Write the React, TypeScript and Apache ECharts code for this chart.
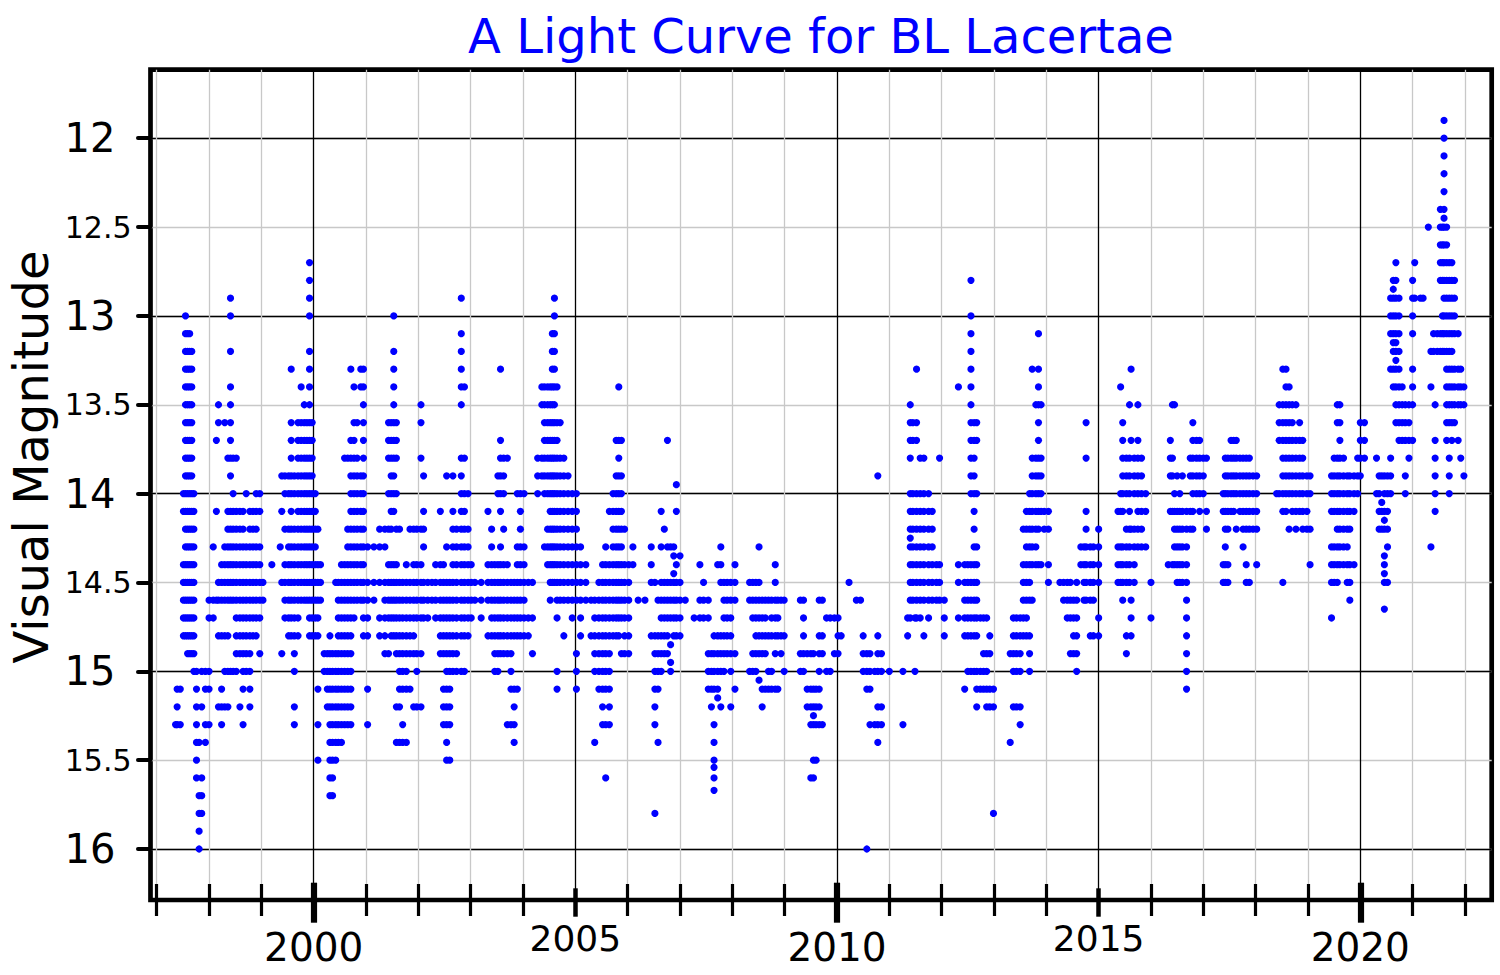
import React, { useEffect, useRef } from "react";
import * as echarts from "echarts";

// Each column: [decimal year, magnitudes in tenths of a magnitude]
type Col = [number, number[]];

const S1997: Col[] = [
  [1997.36, [153]],
  [1997.39, [151, 152, 153]],
  [1997.45, [151, 153]],
  [1997.51, [140, 141, 144, 145, 146, 147, 148]],
  [1997.55, [130, 131, 132, 133, 134, 135, 136, 137, 138, 139, 140, 141, 142, 143, 144, 145, 146, 147, 148]],
  [1997.59, [131, 132, 133, 134, 135, 136, 137, 138, 139, 140, 141, 142, 143, 144, 145, 146, 147, 148, 149]],
  [1997.63, [131, 132, 133, 134, 135, 136, 137, 138, 139, 140, 141, 142, 143, 144, 145, 146, 147, 148, 149]],
  [1997.67, [132, 133, 134, 135, 136, 137, 138, 139, 140, 141, 142, 143, 144, 145, 146, 147, 148, 149]],
  [1997.71, [140, 141, 142, 143, 144, 145, 146, 147, 148, 149, 150]],
  [1997.76, [150, 151, 152, 153, 154, 155, 156]],
  [1997.81, [154, 157, 158, 159, 160]],
  [1997.86, [150, 152, 156, 157, 158]],
  [1997.93, [150, 151, 153, 154]],
  [1998.0, [146, 147, 150, 151, 153]],
];

const S1998: Col[] = [
  [1998.08, [143, 146, 147]],
  [1998.14, [137, 141, 146]],
  [1998.18, [135, 136, 145, 146, 148, 152]],
  [1998.24, [144, 145, 146, 148, 151, 152, 153]],
  [1998.3, [136, 143, 144, 145, 146, 148, 150, 152]],
  [1998.36, [138, 141, 142, 143, 144, 145, 146, 148, 150, 152]],
  [1998.41, [129, 130, 132, 134, 135, 136, 137, 138, 139, 141, 142, 143, 144, 145, 146, 150]],
  [1998.46, [138, 140, 141, 142, 143, 144, 145, 146, 150]],
  [1998.52, [138, 141, 142, 143, 144, 145, 146, 147, 148, 149, 150]],
  [1998.59, [141, 142, 143, 144, 145, 146, 147, 148, 149, 152]],
  [1998.65, [141, 142, 143, 144, 145, 146, 147, 148, 149, 150, 151, 153]],
  [1998.71, [140, 143, 144, 145, 146, 147, 148, 149, 150]],
  [1998.78, [141, 142, 143, 144, 145, 146, 147, 148, 149, 150, 151, 152]],
  [1998.84, [141, 142, 143, 144, 145, 146, 147, 148]],
  [1998.9, [140, 141, 142, 143, 144, 145, 146, 147, 148]],
  [1998.97, [140, 141, 143, 144, 145, 146, 147, 149]],
  [1999.03, [145, 146]],
];

const S1999: Col[] = [
  [1999.2, [144]],
  [1999.36, [143]],
  [1999.39, [139, 141, 145, 149]],
  [1999.45, [139, 140, 142, 144, 145, 146, 147]],
  [1999.52, [139, 140, 142, 143, 144, 145, 146, 147, 148]],
  [1999.57, [133, 136, 137, 138, 139, 140, 141, 142, 143, 144, 145, 146, 147, 148]],
  [1999.63, [139, 140, 142, 143, 144, 145, 146, 147, 148, 149, 150, 152, 153]],
  [1999.7, [136, 137, 138, 139, 140, 141, 142, 143, 144, 145, 146, 147, 148]],
  [1999.76, [134, 136, 137, 138, 139, 140, 141, 142, 143, 144, 145, 146]],
  [1999.82, [135, 136, 137, 138, 139, 140, 141, 142, 143, 144, 145, 146]],
  [1999.87, [136, 137, 138, 139, 140, 141, 142, 143, 144, 145, 146]],
  [1999.92, [127, 128, 129, 130, 132, 133, 134, 135, 136, 137, 138, 139, 140, 141, 142, 143, 144, 145, 146, 147, 148]],
  [1999.97, [136, 137, 138, 139, 140, 141, 142, 143, 144, 145, 146, 147, 148]],
  [2000.03, [140, 141, 142, 143, 144, 145, 146, 147, 148]],
  [2000.08, [142, 144, 145, 146, 147, 148, 151, 153, 155]],
  [2000.13, [144, 145, 146]],
];

const S2000: Col[] = [
  [2000.2, [149, 150]],
  [2000.26, [149, 150, 151, 152]],
  [2000.31, [148, 149, 150, 151, 152, 153, 154, 155, 156, 157]],
  [2000.36, [149, 150, 151, 152, 153, 154, 155, 156, 157]],
  [2000.42, [145, 149, 150, 151, 152, 153, 154, 155]],
  [2000.47, [145, 146, 147, 148, 149, 150, 151, 152, 153, 154]],
  [2000.53, [144, 145, 146, 147, 148, 149, 150, 151, 152, 153, 154]],
  [2000.59, [138, 144, 145, 146, 147, 148, 149, 150, 151, 152, 153]],
  [2000.65, [138, 142, 143, 144, 145, 146, 147, 148, 149, 150, 151, 152, 153]],
  [2000.71, [133, 137, 138, 139, 140, 141, 142, 143, 144, 145, 146, 147, 148, 149, 150, 151, 152, 153]],
  [2000.77, [134, 136, 137, 138, 139, 140, 141, 142, 143, 144, 145, 146, 147]],
  [2000.83, [136, 138, 139, 140, 141, 142, 143, 144, 145, 146]],
  [2000.9, [133, 134, 139, 140, 141, 142, 143, 144, 145, 146]],
  [2000.95, [133, 134, 135, 136, 137, 138, 139, 140, 141, 142, 143, 144, 145, 146, 147, 148]],
];

const S2001: Col[] = [
  [2001.03, [143, 145, 146, 147, 148, 151, 153]],
  [2001.15, [143, 145, 146]],
  [2001.26, [142, 143, 145, 147, 148]],
  [2001.36, [142, 143, 145, 146, 147, 148, 149]],
  [2001.43, [136, 137, 138, 140, 142, 144, 145, 146, 147, 149]],
  [2001.48, [136, 137, 138, 139, 140, 141, 142, 144, 145, 146, 147, 148]],
  [2001.53, [130, 132, 133, 134, 135, 136, 137, 138, 139, 140, 141, 144, 145, 146, 147, 148]],
  [2001.58, [136, 137, 138, 140, 142, 144, 145, 146, 147, 148, 149, 152, 154]],
  [2001.64, [142, 145, 146, 147, 148, 149, 150, 151, 152, 154]],
  [2001.7, [145, 146, 147, 148, 149, 150, 151, 153, 154]],
  [2001.77, [144, 145, 146, 147, 148, 149, 150, 151, 154]],
  [2001.84, [142, 145, 146, 147, 148, 149, 151]],
  [2001.91, [142, 144, 145, 146, 147, 148, 149, 152]],
  [2001.97, [142, 144, 145, 146, 147, 149, 150, 152]],
  [2002.05, [135, 136, 138, 142, 144, 145, 146, 147, 149, 152]],
  [2002.1, [139, 141, 142, 143, 145, 146, 147]],
];

const S2002: Col[] = [
  [2002.18, [145, 146, 147]],
  [2002.26, [145, 146]],
  [2002.33, [144, 145, 146, 147]],
  [2002.42, [141, 144, 145, 146, 147, 148, 149]],
  [2002.48, [144, 145, 146, 147, 148, 149, 151, 152, 153]],
  [2002.54, [139, 143, 145, 146, 147, 148, 149, 150, 151, 152, 153, 154, 155]],
  [2002.6, [145, 146, 147, 148, 149, 150, 151, 152, 153, 155]],
  [2002.66, [139, 141, 142, 143, 144, 145, 146, 147, 148, 149, 150]],
  [2002.73, [142, 143, 144, 145, 146, 147, 148, 149, 150]],
  [2002.82, [129, 131, 132, 133, 134, 135, 138, 139, 140, 141, 142, 143, 144, 145, 146, 147, 148, 150]],
  [2002.88, [134, 138, 140, 141, 142, 143, 144, 145, 146, 147, 148, 150]],
  [2002.95, [140, 142, 143, 144, 145, 146, 147, 148]],
  [2003.01, [144, 145, 146, 147]],
  [2003.08, [145, 146]],
];

const S2003: Col[] = [
  [2003.2, [145, 146, 147]],
  [2003.33, [141, 144, 145, 146, 148]],
  [2003.4, [142, 143, 144, 145, 146, 147, 148]],
  [2003.46, [144, 145, 146, 147, 148, 149, 150]],
  [2003.52, [139, 140, 144, 145, 146, 147, 148, 149, 150]],
  [2003.57, [133, 137, 138, 139, 140, 141, 143, 144, 145, 146, 147, 148, 149]],
  [2003.63, [138, 139, 140, 142, 144, 145, 146, 147, 148, 149]],
  [2003.7, [138, 144, 145, 146, 147, 148, 149, 153]],
  [2003.77, [145, 146, 147, 148, 149, 150, 151, 153]],
  [2003.83, [145, 146, 147, 148, 151, 152, 153, 154]],
  [2003.89, [140, 143, 144, 145, 146, 147, 148, 151]],
  [2003.95, [140, 141, 142, 143, 144, 145, 146, 147, 148]],
  [2004.02, [140, 143, 144, 145, 146, 147, 148]],
  [2004.1, [145, 147, 148]],
  [2004.18, [145, 147, 149]],
];

const S2004: Col[] = [
  [2004.28, [138, 139, 140]],
  [2004.36, [134, 135, 138, 139]],
  [2004.41, [134, 135, 136, 137, 138, 139, 140, 143]],
  [2004.47, [134, 135, 136, 137, 138, 139, 140, 142, 143, 144]],
  [2004.52, [134, 135, 136, 137, 138, 139, 140, 141, 142, 143, 144, 145, 146]],
  [2004.56, [131, 132, 133, 134, 135, 136, 137, 138, 139, 140, 141, 142, 143, 144, 145]],
  [2004.6, [129, 130, 131, 132, 133, 134, 135, 136, 137, 138, 139, 140, 141, 142, 143, 144, 145]],
  [2004.65, [134, 136, 137, 138, 139, 140, 141, 142, 143, 144, 145, 146, 147, 150, 151]],
  [2004.71, [136, 138, 139, 140, 141, 142, 143, 144, 145, 146]],
  [2004.78, [138, 139, 140, 141, 142, 143, 144, 145, 146, 148]],
  [2004.86, [139, 140, 141, 142, 143, 144, 145, 146]],
  [2004.94, [140, 141, 142, 143, 144, 145, 146, 147]],
  [2005.02, [140, 141, 142, 143, 144, 145, 146, 149, 150, 151]],
  [2005.1, [143, 144, 145, 146, 147, 148]],
  [2005.2, [144, 145, 146]],
];

const S2005: Col[] = [
  [2005.3, [146, 148]],
  [2005.37, [146, 147, 148, 149, 150, 154]],
  [2005.45, [145, 146, 147, 148, 149, 150, 151]],
  [2005.52, [144, 145, 146, 147, 148, 149, 150, 151, 152, 153]],
  [2005.58, [143, 144, 145, 146, 147, 148, 149, 150, 151, 153, 156]],
  [2005.65, [141, 144, 145, 146, 147, 148, 149, 150, 151, 152, 153]],
  [2005.72, [140, 141, 142, 143, 144, 145, 146, 147, 148]],
  [2005.78, [137, 139, 140, 141, 142, 143, 144, 145, 146, 147, 148]],
  [2005.83, [134, 137, 138, 139, 140, 141, 142, 143, 144, 145, 146, 147, 148]],
  [2005.88, [137, 139, 140, 141, 142, 143, 144, 145, 146, 147, 149]],
  [2005.94, [142, 144, 145, 146, 147, 148, 149]],
  [2006.02, [144, 145, 146, 147, 148, 149]],
  [2006.1, [143, 144]],
  [2006.2, [146]],
];

const S2006: Col[] = [
  [2006.33, [146]],
  [2006.45, [143, 144, 145, 148]],
  [2006.52, [145, 148, 149, 150, 151, 152, 153, 158]],
  [2006.58, [146, 148, 149, 150, 151, 154]],
  [2006.64, [141, 143, 145, 146, 147, 148, 149, 150]],
  [2006.7, [142, 145, 146, 147, 148, 149]],
  [2006.76, [137, 143, 145, 146, 147, 148, 149]],
  [2006.82, [143, 145, 146, 147, 148.5, 149.5, 150]],
  [2006.88, [143, 143.5, 144.5, 145, 146, 147, 148]],
  [2006.93, [139.5, 141, 144, 145, 146, 147, 148]],
  [2007.0, [143.5, 145, 146, 147, 148]],
  [2007.1, [146]],
  [2007.27, [147]],
];

const S2007: Col[] = [
  [2007.38, [144, 146, 147]],
  [2007.45, [145, 146, 147]],
  [2007.54, [146, 147, 149, 150, 151]],
  [2007.6, [149, 150, 151, 152]],
  [2007.65, [148, 149, 150, 151, 153, 154, 155, 155.4, 156, 156.7]],
  [2007.72, [144, 148, 149, 150, 151, 151.5]],
  [2007.78, [143, 144, 145, 148, 149, 150, 152]],
  [2007.84, [145, 146, 147, 148, 149, 150]],
  [2007.9, [145, 146, 147, 148, 149]],
  [2007.97, [145, 146, 147, 148, 149, 150, 152]],
  [2008.05, [144, 145, 146, 149, 151]],
];

const S2008: Col[] = [
  [2008.33, [145, 146, 150]],
  [2008.39, [145, 146, 147, 149, 150]],
  [2008.45, [145, 146, 147, 148, 149, 150]],
  [2008.51, [143, 145, 146, 147, 148, 149, 150.5]],
  [2008.57, [146, 147, 148, 149, 151, 152]],
  [2008.63, [146, 147, 148, 149, 151]],
  [2008.69, [146, 148, 150, 151]],
  [2008.75, [146, 147, 148, 150, 151]],
  [2008.82, [144, 145, 146, 147, 148, 149, 151]],
  [2008.87, [146, 147, 148, 151]],
  [2008.93, [146, 148, 149]],
  [2008.99, [146, 148, 150]],
];

const S2009: Col[] = [
  [2009.3, [146, 149, 150]],
  [2009.36, [146, 147, 148, 149, 150]],
  [2009.43, [149, 151, 152]],
  [2009.5, [149, 151, 152, 153, 156]],
  [2009.55, [149, 151, 152, 152.5, 153, 155, 156]],
  [2009.6, [151, 152, 153, 155]],
  [2009.66, [146, 148, 149, 150, 151, 152, 153]],
  [2009.72, [146, 148, 149, 153]],
  [2009.8, [147, 150]],
  [2009.87, [147, 150]],
  [2009.95, [147, 149]],
  [2010.02, [147, 148, 149]],
  [2010.08, [148]],
];

const S2010: Col[] = [
  [2010.23, [145]],
  [2010.37, [146]],
  [2010.45, [146]],
  [2010.5, [148, 149, 150]],
  [2010.57, [149, 150, 151, 160]],
  [2010.63, [149, 150, 151, 153]],
  [2010.72, [150, 153]],
  [2010.78, [139, 148, 149, 150, 152, 153, 154]],
  [2010.85, [149, 150, 152, 153]],
  [2011.0, [150]],
];

const S2011: Col[] = [
  [2011.26, [150, 153]],
  [2011.35, [147, 148]],
  [2011.4, [135, 136, 137, 138, 140, 141, 142, 142.5, 143, 144, 145, 146, 147]],
  [2011.45, [136, 137, 140, 141, 142, 143, 144, 145, 146]],
  [2011.49, [147, 150]],
  [2011.52, [133, 136, 137, 140, 141, 142, 143, 144, 145, 146, 147]],
  [2011.59, [138, 140, 141, 142, 143, 144, 145, 146, 147]],
  [2011.66, [138, 140, 141, 142, 143, 144, 145, 146, 148]],
  [2011.75, [140, 141, 142, 143, 144, 145, 146, 147]],
  [2011.82, [141, 142, 143, 144, 145, 146]],
  [2011.9, [144, 145, 146]],
  [2011.96, [138, 144, 145, 146]],
  [2012.05, [146, 147, 148]],
];

const S2012: Col[] = [
  [2012.32, [134, 144, 145, 147]],
  [2012.44, [144, 145, 146, 147, 148, 151]],
  [2012.5, [144, 145, 146, 147, 148, 150]],
  [2012.56, [128, 130, 131, 132, 133, 134, 135, 136, 137, 138, 139, 140, 144, 145, 146, 147, 148, 150]],
  [2012.62, [136, 137, 138, 139, 140, 141, 142, 143, 144, 145, 146, 147, 148, 150]],
  [2012.67, [136, 137, 140, 143, 144, 145, 146, 147, 148, 150, 151, 152]],
  [2012.74, [147, 150, 151]],
  [2012.8, [147, 149, 150, 151]],
  [2012.86, [147, 149, 150, 151, 152]],
  [2012.92, [148, 149, 151, 152]],
  [2012.99, [151, 152, 158]],
];

const S2013: Col[] = [
  [2013.31, [149, 154]],
  [2013.37, [147, 148, 149, 150, 152]],
  [2013.43, [147, 148, 149, 150, 152]],
  [2013.5, [147, 148, 149, 150, 152, 153]],
  [2013.56, [142, 144, 145, 146, 147, 148]],
  [2013.62, [141, 142, 143, 144, 145, 146, 147, 148]],
  [2013.68, [140, 141, 142, 143, 144, 145, 146, 148, 149, 150]],
  [2013.73, [133, 138, 139, 140, 141, 142, 143, 144, 146]],
  [2013.8, [135, 138, 139, 140, 141, 142, 143, 144]],
  [2013.85, [131, 133, 134, 135, 136, 137, 138, 139, 140, 141, 142, 144]],
  [2013.9, [135, 138, 139, 140, 141, 144]],
  [2013.96, [141, 142]],
  [2014.04, [141, 142, 144, 145]],
];

const S2014: Col[] = [
  [2014.26, [145]],
  [2014.33, [145, 146]],
  [2014.4, [145, 146, 147]],
  [2014.46, [145, 146, 147, 149]],
  [2014.52, [146, 147, 148, 149]],
  [2014.58, [145, 146, 147, 148, 149, 150]],
  [2014.66, [143, 144]],
  [2014.72, [143, 144, 145, 146]],
  [2014.76, [136, 138, 141, 142, 143, 144, 145, 146]],
  [2014.84, [143, 144, 145, 146, 148]],
  [2014.9, [143, 144, 145, 146, 148]],
  [2015.0, [142, 143, 144, 145, 147, 148]],
];

const S2015: Col[] = [
  [2015.37, [141, 143, 144, 145]],
  [2015.42, [134, 140, 141, 143, 144, 145]],
  [2015.46, [136, 137, 138, 139, 140, 141, 143, 144, 145, 146]],
  [2015.53, [138, 139, 140, 142, 143, 144, 145, 148, 149]],
  [2015.59, [135, 138, 139, 140, 141, 142, 143, 144, 145]],
  [2015.62, [133, 137, 142, 146, 147, 148]],
  [2015.68, [138, 139, 140, 142, 143, 144, 145]],
  [2015.75, [135, 137, 138, 139, 140, 141, 142, 143]],
  [2015.82, [138, 139, 140, 141, 142, 143]],
  [2015.9, [140, 141, 143]],
  [2016.0, [145, 147]],
];

const S2016: Col[] = [
  [2016.33, [144]],
  [2016.37, [137, 138, 139, 141]],
  [2016.41, [135, 138, 139, 141, 144]],
  [2016.45, [135, 140, 141, 142, 143, 144]],
  [2016.5, [139, 141, 142, 143, 144, 145]],
  [2016.55, [140, 141, 142, 143, 144, 145]],
  [2016.6, [139, 141, 142, 143, 144, 145]],
  [2016.68, [141, 142, 143, 144, 145, 146, 147, 148, 149, 150, 151]],
  [2016.75, [138, 139, 141, 142]],
  [2016.8, [136, 137, 138, 139, 140, 141, 142]],
  [2016.87, [137, 138, 139, 140]],
  [2016.93, [137, 138, 139, 140, 141]],
  [2017.0, [138, 139, 140]],
  [2017.06, [138, 141, 142]],
];

const S2017: Col[] = [
  [2017.38, [140, 141, 144, 145]],
  [2017.42, [138, 139, 140, 141, 142, 143, 144, 145]],
  [2017.47, [138, 139, 140, 141, 142, 144, 145]],
  [2017.53, [137, 138, 139, 140, 141]],
  [2017.58, [137, 138, 139, 140, 141]],
  [2017.63, [137, 138, 139, 140, 142]],
  [2017.7, [138, 139, 140, 141]],
  [2017.76, [138, 139, 140, 141, 142, 143]],
  [2017.82, [138, 139, 140, 141, 142, 144, 145]],
  [2017.88, [138, 139, 140, 141, 142, 145]],
  [2017.95, [139, 140, 141, 142]],
  [2018.02, [139, 140, 141, 142, 144]],
];

const S2018: Col[] = [
  [2018.4, [140]],
  [2018.45, [135, 136, 137, 140]],
  [2018.52, [133, 135, 136, 137, 138, 139, 140, 141, 145]],
  [2018.58, [133, 134, 135, 136, 137, 138, 139, 140, 141]],
  [2018.64, [134, 135, 136, 137, 138, 139, 140, 142]],
  [2018.7, [135, 136, 137, 138, 139, 140, 141]],
  [2018.77, [135, 137, 138, 139, 140, 141, 142]],
  [2018.84, [136, 137, 138, 139, 140, 141]],
  [2018.9, [137, 138, 139, 140, 141, 142]],
  [2018.98, [139, 140, 141, 142]],
  [2019.04, [139, 140, 142, 144]],
];

const S2019: Col[] = [
  [2019.45, [139, 140, 141, 143, 144, 145, 147]],
  [2019.5, [138, 139, 140, 141, 143, 144, 145]],
  [2019.56, [135, 136, 138, 139, 140, 141, 142, 143, 144, 145]],
  [2019.61, [135, 136, 137, 138, 139, 140, 141, 142, 143, 144]],
  [2019.68, [138, 139, 140, 141, 142, 143, 144]],
  [2019.75, [139, 140, 141, 142, 143, 144, 145]],
  [2019.8, [139, 140, 141, 142, 144, 145, 146]],
  [2019.88, [139, 140, 141, 144]],
  [2019.95, [138, 139, 140]],
  [2020.0, [136, 137, 138, 139]],
  [2020.08, [136, 137, 138]],
];

const S2020: Col[] = [
  [2020.31, [138, 140]],
  [2020.36, [139, 140, 141, 142]],
  [2020.41, [139, 140.5, 141, 142]],
  [2020.46, [139, 140, 141, 141.5, 142, 143.5, 144, 144.5, 145, 146.5]],
  [2020.52, [139, 140, 141, 142, 143, 145]],
  [2020.58, [129, 130, 131, 133, 138, 139, 140]],
  [2020.63, [128, 128.5, 129, 130, 131, 131.5, 132, 133, 134]],
  [2020.68, [127, 128, 129, 130, 131, 131.5, 132, 132.5, 133, 134, 135, 136]],
  [2020.74, [129, 130, 131, 132, 133, 134, 135, 136, 137]],
  [2020.8, [134, 135, 136, 137]],
  [2020.86, [135, 136, 137, 139, 140]],
  [2020.93, [135, 136, 137, 138]],
  [2021.0, [128, 129, 130, 131, 133, 134, 135, 137]],
  [2021.04, [127, 129]],
  [2021.15, [129]],
  [2021.2, [129]],
];

const S2021: Col[] = [
  [2021.3, [125]],
  [2021.35, [132, 134, 143]],
  [2021.4, [131, 132]],
  [2021.43, [135, 137, 138, 139, 140, 141]],
  [2021.47, [131, 132]],
  [2021.53, [124, 125, 126, 127, 128, 131, 132]],
  [2021.57, [125, 126, 127, 128, 130, 131, 132]],
  [2021.6, [119, 120, 121, 122, 123, 124, 124.5, 125, 126, 127, 128, 129, 130, 131, 132]],
  [2021.65, [125, 126, 127, 128, 129, 130, 131, 132, 133, 134, 135, 136, 137]],
  [2021.7, [127, 128, 129, 130, 131, 132, 133, 134, 135, 136, 138, 139, 140]],
  [2021.75, [127, 128, 129, 130, 131, 132, 133, 134, 135, 136, 137]],
  [2021.8, [128, 129, 130, 131, 133, 134, 135, 136]],
  [2021.87, [131, 133, 134, 135, 137]],
  [2021.92, [133, 134, 135, 138]],
  [2021.98, [134, 135, 139]],
];

const SEASONS: Col[][] = [
  S1997, S1998, S1999, S2000, S2001, S2002, S2003, S2004, S2005, S2006, S2007, S2008,
  S2009, S2010, S2011, S2012, S2013, S2014, S2015, S2016, S2017, S2018, S2019, S2020, S2021,
];

// Axis ranges and tick values
const X_MIN = 1996.881;
const X_MAX = 2022.511;
const Y_MIN = 11.6145;
const Y_MAX = 16.287;
const MINOR_YEARS = [
  1997, 1998, 1999, 2001, 2002, 2003, 2004, 2006, 2007, 2008, 2009, 2011, 2012, 2013, 2014,
  2016, 2017, 2018, 2019, 2021, 2022,
];
const MID_YEARS = [2005, 2015];
const MAJOR_YEARS = [2000, 2010, 2020];
const Y_ALL = [12, 12.5, 13, 13.5, 14, 14.5, 15, 15.5, 16];
const Y_MAJOR = [12, 13, 14, 15, 16];
const Y_MINOR = [12.5, 13.5, 14.5, 15.5];

const TITLE = "A Light Curve for BL Lacertae";
const Y_TITLE = "Visual Magnitude";
const FONT = "DejaVu Sans";

export default function App() {
  const ref = useRef<HTMLDivElement>(null);

  useEffect(() => {
    document.body.style.margin = "0";
    if (!ref.current) return;
    const chart = echarts.init(ref.current, undefined, { renderer: "svg" });

    const points: [number, number][] = [];
    SEASONS.forEach((season) =>
      season.forEach(([x, mags]) => mags.forEach((m) => points.push([x, m / 10])))
    );

    const xBase = { type: "value" as const, min: X_MIN, max: X_MAX, gridIndex: 0, position: "bottom" as const };
    const yBase = { type: "value" as const, min: Y_MIN, max: Y_MAX, inverse: true, gridIndex: 0, position: "left" as const };

    chart.setOption({
      animation: false,
      backgroundColor: "#ffffff",
      grid: {
        left: 150.5,
        top: 69.7,
        width: 1341.2,
        height: 830.3,
        show: true,
        borderColor: "#000",
        borderWidth: 4.7,
        backgroundColor: "transparent",
        containLabel: false,
        outerBoundsMode: "none",
      },
      xAxis: [
        {
          ...xBase,
          offset: -16,
          axisLine: { show: false },
          axisTick: { show: true, customValues: MINOR_YEARS, length: 32, lineStyle: { color: "#000", width: 3.2 } },
          axisLabel: { show: false, customValues: MINOR_YEARS },
          splitLine: { show: true, lineStyle: { color: "#c8c8c8", width: 1.3 } },
        },
        {
          ...xBase,
          offset: -11.7,
          axisLine: { show: false },
          axisTick: { show: true, customValues: MID_YEARS, length: 28.4, lineStyle: { color: "#000", width: 4.5 } },
          axisLabel: { show: false, customValues: MID_YEARS },
          splitLine: { show: true, lineStyle: { color: "#000", width: 1.3 } },
        },
        {
          ...xBase,
          offset: -17.3,
          axisLine: { show: false },
          axisTick: { show: true, customValues: MAJOR_YEARS, length: 40, lineStyle: { color: "#000", width: 6.2 } },
          axisLabel: { show: false, customValues: MAJOR_YEARS },
          splitLine: { show: true, lineStyle: { color: "#000", width: 1.3 } },
        },
        {
          ...xBase,
          axisLine: { show: false },
          axisTick: { show: false, customValues: MAJOR_YEARS },
          splitLine: { show: false },
          axisLabel: {
            show: true,
            customValues: MAJOR_YEARS,
            margin: 28,
            fontSize: 39,
            fontFamily: FONT,
            color: "#000",
            formatter: (v: number) => String(Math.round(v)),
          },
        },
        {
          ...xBase,
          axisLine: { show: false },
          axisTick: { show: false, customValues: MID_YEARS },
          splitLine: { show: false },
          axisLabel: {
            show: true,
            customValues: MID_YEARS,
            margin: 20,
            fontSize: 36,
            fontFamily: FONT,
            color: "#000",
            formatter: (v: number) => String(Math.round(v)),
          },
        },
      ],
      yAxis: [
        {
          ...yBase,
          axisLine: { show: false },
          axisTick: { show: true, customValues: Y_ALL, length: 12.5, lineStyle: { color: "#000", width: 4, cap: "round" } },
          axisLabel: { show: false, customValues: Y_ALL },
          splitLine: { show: true, lineStyle: { color: "#c8c8c8", width: 1.3 } },
        },
        {
          ...yBase,
          axisLine: { show: false },
          axisTick: { show: false, customValues: Y_MAJOR },
          splitLine: { show: true, lineStyle: { color: "#000", width: 1.3 } },
          axisLabel: {
            show: true,
            customValues: Y_MAJOR,
            margin: 35,
            fontSize: 40,
            fontFamily: FONT,
            color: "#000",
            formatter: (v: number) => String(v),
          },
        },
        {
          ...yBase,
          axisLine: { show: false },
          axisTick: { show: false, customValues: Y_MINOR },
          splitLine: { show: false },
          axisLabel: {
            show: true,
            customValues: Y_MINOR,
            margin: 19,
            fontSize: 30,
            fontFamily: FONT,
            color: "#000",
            formatter: (v: number) => v.toFixed(1),
          },
        },
      ],
      graphic: [
        {
          type: "text",
          x: 821,
          y: 36,
          style: {
            text: TITLE,
            fill: "#0000ff",
            fontSize: 48,
            fontFamily: FONT,
            align: "center",
            verticalAlign: "middle",
          },
        },
        {
          type: "text",
          x: 31,
          y: 457,
          rotation: Math.PI / 2,
          style: {
            text: Y_TITLE,
            fill: "#000",
            fontSize: 48,
            fontFamily: FONT,
            align: "center",
            verticalAlign: "middle",
          },
        },
      ],
      series: [
        {
          type: "scatter",
          xAxisIndex: 0,
          yAxisIndex: 0,
          data: points,
          symbol: "circle",
          symbolSize: 7.2,
          itemStyle: { color: "#0000ff", opacity: 1 },
          z: 5,
          silent: true,
        },
      ],
    });

    return () => chart.dispose();
  }, []);

  return <div ref={ref} style={{ width: 1500, height: 975 }} />;
}
